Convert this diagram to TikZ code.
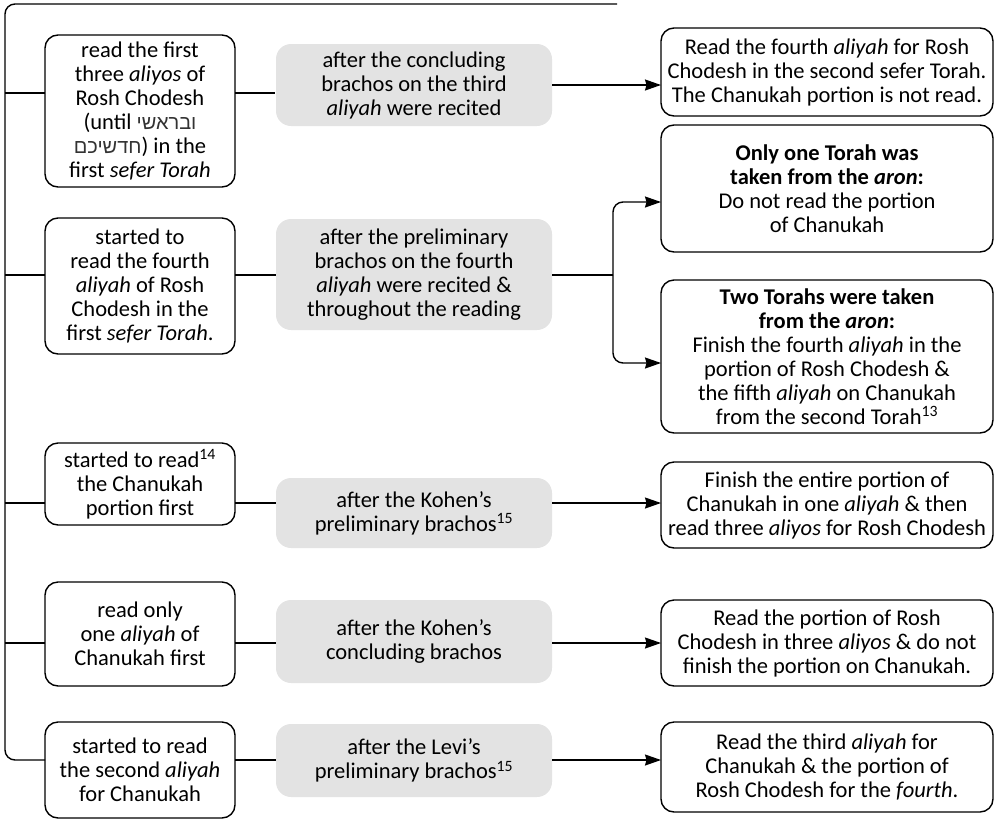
\documentclass[tikz,border=0pt]{standalone}
\usepackage{fontspec}
\setmainfont{Carlito}
\newfontfamily\hebfont[Script=Hebrew]{Liberation Sans}
\TeXXeTstate=1
\usetikzlibrary{arrows.meta}
\begin{document}
\begin{tikzpicture}[x=1pt,y=-1pt,
  every node/.style={inner sep=0pt, outer sep=0pt, align=center, font=\fontsize{22.5}{24}\selectfont},
  wbox/.style={draw=black, line width=1.4pt, rounded corners=13pt, fill=white},
  gbox/.style={fill=gray!22, rounded corners=15pt},
  conn/.style={line width=1.4pt, draw=black},
  arr/.style={conn, -{Stealth[length=16pt,width=11pt,inset=1.5pt]}}
]
\useasboundingbox (0,0) rectangle (999,820);
% left boxes
\node[wbox, minimum width=190pt, minimum height=152pt] (L1) at (140,111) {read the first\\three \textit{aliyos} of\\Rosh Chodesh\\(until {\hebfont\fontsize{20}{24}\selectfont\color{black!80}\beginR ובראשי\endR}\\{\hebfont\fontsize{20}{24}\selectfont\color{black!80}\beginR חדשיכם\endR}) in the\\first \textit{sefer Torah}};
\node[wbox, minimum width=190pt, minimum height=136pt] (L2) at (140,286) {started to\\read the fourth\\\textit{aliyah} of Rosh\\Chodesh in the\\first \textit{sefer Torah}.};
\node[wbox, minimum width=190pt, minimum height=82pt] (L3) at (140,484) {started to read\textsuperscript{14}\\the Chanukah\\portion first};
\node[wbox, minimum width=190pt, minimum height=104pt] (L4) at (140,634) {read only\\one \textit{aliyah} of\\Chanukah first};
\node[wbox, minimum width=190pt, minimum height=96pt] (L5) at (140,770) {started to read\\the second \textit{aliyah}\\for Chanukah};
% gray boxes
\node[gbox, minimum width=276pt, minimum height=82pt] (G1) at (414,85) {after the concluding\\brachos on the third\\\textit{aliyah} were recited};
\node[gbox, minimum width=276pt, minimum height=111pt] (G2) at (414,274.5) {after the preliminary\\brachos on the fourth\\\textit{aliyah} were recited \&\\throughout the reading};
\node[gbox, minimum width=276pt, minimum height=70pt] (G3) at (414,513) {after the Kohen’s\\preliminary brachos\textsuperscript{15}};
\node[gbox, minimum width=276pt, minimum height=83pt] (G4) at (414,641.5) {after the Kohen’s\\concluding brachos};
\node[gbox, minimum width=276pt, minimum height=73pt] (G5) at (414,760.5) {after the Levi’s\\preliminary brachos\textsuperscript{15}};
% right boxes
\node[wbox, minimum width=332pt, minimum height=88pt] (R1) at (827,72) {Read the fourth \textit{aliyah} for Rosh\\Chodesh in the second sefer Torah.\\The Chanukah portion is not read.};
\node[wbox, minimum width=332pt, minimum height=127pt] (R2a) at (827,188.5) {\textbf{Only one Torah was}\\\textbf{taken from the \textit{aron}:}\\Do not read the portion\\of Chanukah};
\node[wbox, minimum width=332pt, minimum height=153pt] (R2b) at (827,356.5) {\textbf{Two Torahs were taken}\\\textbf{from the \textit{aron}:}\\Finish the fourth \textit{aliyah} in the\\portion of Rosh Chodesh \&\\the fifth \textit{aliyah} on Chanukah\\from the second Torah\textsuperscript{13}};
\node[wbox, minimum width=332pt, minimum height=86pt] (R3) at (827,505) {Finish the entire portion of\\Chanukah in one \textit{aliyah} \& then\\read three \textit{aliyos} for Rosh Chodesh};
\node[wbox, minimum width=332pt, minimum height=86pt] (R4) at (827,643) {Read the portion of Rosh\\Chodesh in three \textit{aliyos} \& do not\\finish the portion on Chanukah.};
\node[wbox, minimum width=332pt, minimum height=90pt] (R5) at (827,767) {Read the third \textit{aliyah} for\\Chanukah \& the portion of\\Rosh Chodesh for the \textit{fourth}.};
% trunk coordinates
\coordinate (top) at (617,4);
\coordinate (t1) at (5,93);
\coordinate (t2) at (5,275);
\coordinate (t3) at (5,503);
\coordinate (t4) at (5,643);
\coordinate (t5) at (5,760);
\coordinate (s1) at (275,93);
\coordinate (a1) at (552,85);
\coordinate (b2) at (613,275);
% trunk
\draw[conn, rounded corners=10pt] (top) -- (t1 |- top) -- (t5) -- (L5.west |- t5);
\draw[conn] (t1) -- (L1.west |- t1);
\draw[conn] (t2) -- (L2.west |- t2);
\draw[conn] (t3) -- (L3.west |- t3);
\draw[conn] (t4) -- (L4.west |- t4);
% left to gray
\draw[conn] (L1.east |- s1) -- (s1);
\draw[conn] (L2.east |- t2) -- (G2.west |- t2);
\draw[conn] (L3.east |- t3) -- (G3.west |- t3);
\draw[conn] (L4.east |- t4) -- (G4.west |- t4);
\draw[conn] (L5.east |- t5) -- (G5.west |- t5);
% gray to right
\draw[arr] (a1) -- (R1.west |- a1);
\draw[conn] (G2.east |- b2) -- (b2);
\draw[arr, rounded corners=10pt] (b2) -- (b2 |- 0,202) -- (R2a.west |- 0,202);
\draw[arr, rounded corners=10pt] (b2) -- (b2 |- 0,363) -- (R2b.west |- 0,363);
\draw[arr] (G3.east |- t3) -- (R3.west |- t3);
\draw[arr] (G4.east |- t4) -- (R4.west |- t4);
\draw[arr] (G5.east |- t5) -- (R5.west |- t5);
\end{tikzpicture}
\end{document}
